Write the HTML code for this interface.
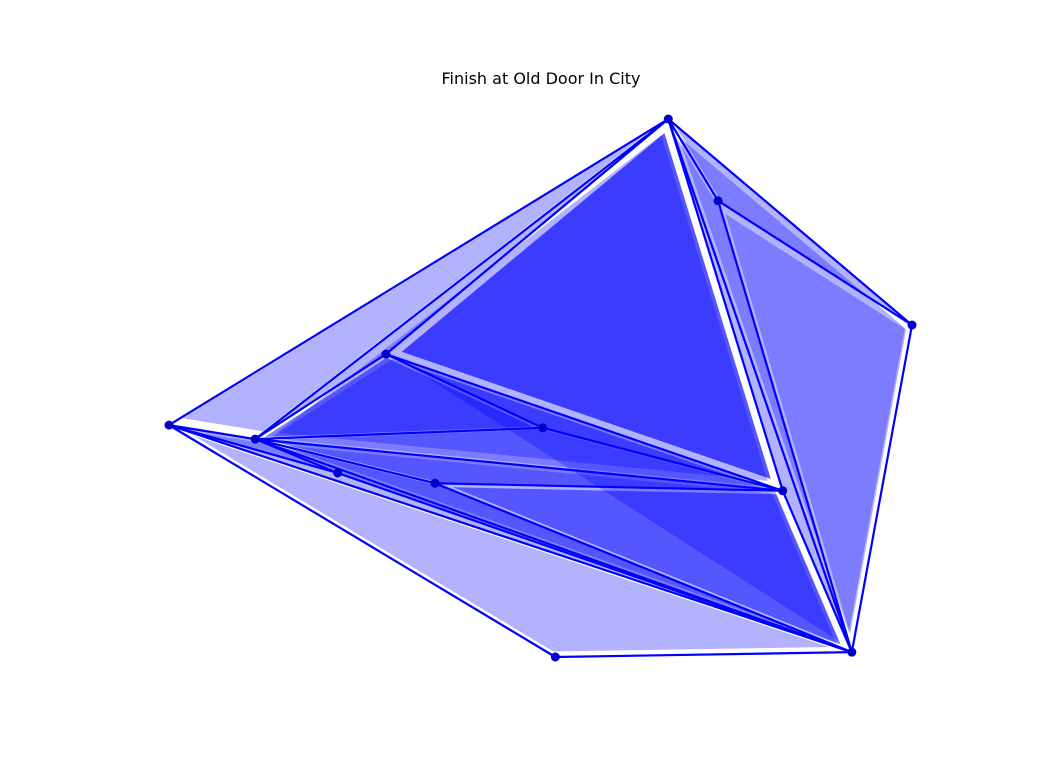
<!DOCTYPE html>
<html><head><meta charset="utf-8"><style>
body{margin:0;background:#fff;}
svg{display:block;font-family:"DejaVu Sans","Liberation Sans",sans-serif;}
</style></head><body>
<svg id="chart" width="1056" height="768">
<text x="541" y="84" text-anchor="middle" font-size="16">Finish at Old Door In City</text>
<g id="fills"></g>
<g id="edges"></g>
<g id="pts"></g>
</svg>
<script>
const pointNames = ["A","B","C","D","E","F","G","H","I","J","K","L"];
const xValues = [67.2,73.9,100,0,11.6,29.2,50.3,22.7,35.8,82.6,52.0,91.9];
const yValues = [100,84.8,61.7,43.1,40.5,56.3,42.6,34.2,32.3,30.9,0,0.9];
const triangles = [[3,0,4],[4,0,5],[0,5,9],[0,9,11],[0,1,11],[0,1,2],[1,2,11],[3,4,11],[3,10,11],[4,5,6],[5,6,9],[4,6,9],[4,8,9],[8,9,11],[4,8,11],[4,7,11],[3,4,7],
  [4,0,9],[4,9,11],[4,5,9],[0,2,11],[4,5,6],[0,5,9]];
const fillOnlyTriangles = [[5,9,11],[0,5,9],[8,9,11],[4,8,11],[4,8,9]];
const extraEdges = [[10,11]];
function sx(v){return 169 + v*7.43;}
function sy(v){return 657 - v*5.38;}
const NS="http://www.w3.org/2000/svg";
const fills=document.getElementById('fills'), edges=document.getElementById('edges'), pts=document.getElementById('pts');
const P=xValues.map((x,i)=>[sx(x),sy(yValues[i])]);
const seen={};
function fillTri(t){
  const c=[0,1].map(k=>(P[t[0]][k]+P[t[1]][k]+P[t[2]][k])/3);
  const s=0.93;
  const pp=t.map(i=>[(c[0]+(P[i][0]-c[0])*s).toFixed(1),(c[1]+(P[i][1]-c[1])*s).toFixed(1)].join(',')).join(' ');
  const pg=document.createElementNS(NS,'polygon');
  pg.setAttribute('points',pp);pg.setAttribute('fill','rgba(0,0,255,0.3)');
  
  
  fills.appendChild(pg);
}
triangles.forEach(t=>{
  fillTri(t);
  [[0,1],[1,2],[2,0]].forEach(e=>{
    const a=Math.min(t[e[0]],t[e[1]]), b=Math.max(t[e[0]],t[e[1]]);
    seen[a+'-'+b]=[a,b];
  });
});
fillOnlyTriangles.forEach(fillTri);
extraEdges.forEach(e=>{seen[e[0]+'-'+e[1]]=e;});
Object.values(seen).forEach(([a,b])=>{
  const l=document.createElementNS(NS,'line');
  l.setAttribute('x1',P[a][0]);l.setAttribute('y1',P[a][1]);
  l.setAttribute('x2',P[b][0]);l.setAttribute('y2',P[b][1]);
  l.setAttribute('stroke','#0000ff');l.setAttribute('stroke-width','2.2');
  
  
  edges.appendChild(l);
});
P.forEach(p=>{
  const c=document.createElementNS(NS,'circle');
  c.setAttribute('cx',p[0]);c.setAttribute('cy',p[1]);c.setAttribute('r','4.5');c.setAttribute('fill','#0000cc');
  
  
  pts.appendChild(c);
});
</script>
</body></html>
